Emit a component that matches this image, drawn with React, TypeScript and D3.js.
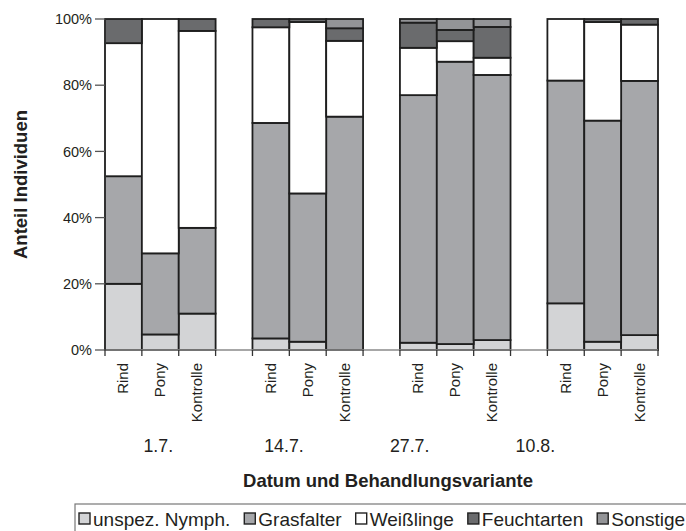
import React from "react";
import * as d3 from "d3";

// Sampling dates and grazing treatments
const dates = ["1.7.", "14.7.", "27.7.", "10.8."];
const treatments = ["Rind", "Pony", "Kontrolle"];

// Butterfly groups (stacked bottom to top)
const groups = ["unspez. Nymph.", "Grasfalter", "Weißlinge", "Feuchtarten", "Sonstige"];

// Share of individuals in % per bar (order: date × treatment)
const unspezNymph = [20, 4.7, 11, 3.5, 2.5, 0, 2.2, 1.8, 3.0, 14.1, 2.5, 4.5];
const grasfalter = [32.5, 24.5, 25.9, 65.1, 44.8, 70.5, 74.8, 85.3, 80.1, 67.3, 66.8, 76.8];
const weisslinge = [40.2, 70.8, 59.5, 28.9, 51.8, 22.9, 14.3, 6.2, 5.2, 18.6, 29.8, 17.0];
const feuchtarten = [7.3, 0, 3.6, 2.5, 0.9, 3.8, 7.6, 3.4, 9.3, 0, 0.9, 1.7];
const sonstige = [0, 0, 0, 0, 0, 2.8, 1.1, 3.3, 2.4, 0, 0, 0];

const yTicks = [0, 20, 40, 60, 80, 100];

const W = 686;
const H = 531;
const FONT = "'Liberation Sans', Arial, Helvetica, sans-serif";
const INK = "#231f20";
const colors = ["#d3d4d6", "#a6a7aa", "#ffffff", "#6a6b6d", "#939497"];

const margin = { left: 105, right: 28, top: 19, bottom: 181 };

function measure(text: string, font: string): number {
  const c = document.createElement("canvas");
  const ctx = c.getContext("2d");
  if (!ctx) return text.length * 10;
  ctx.font = font;
  return ctx.measureText(text).width;
}

export default function App() {
  const series = [unspezNymph, grasfalter, weisslinge, feuchtarten, sonstige];

  // one slot per bar, plus an empty slot between dates
  const slots: string[] = [];
  const rows: any[] = [];
  dates.forEach((d, di) => {
    treatments.forEach((t, ti) => {
      const i = di * treatments.length + ti;
      const key = `${d}|${t}`;
      slots.push(key);
      const row: any = { key, date: d, treatment: t };
      groups.forEach((g, gi) => (row[g] = series[gi][i]));
      rows.push(row);
    });
    if (di < dates.length - 1) slots.push(`gap${di}`);
  });

  const x = d3
    .scaleBand<string>()
    .domain(slots)
    .range([margin.left, W - margin.right])
    .paddingInner(0)
    .paddingOuter(0);

  const y = d3
    .scaleLinear()
    .domain([0, 100])
    .range([H - margin.bottom, margin.top]);

  const stacked = d3.stack<any>().keys(groups)(rows);

  const y0 = y(0);
  const bw = x.bandwidth();

  // boundaries between slots for the category ticks
  const boundaries = slots.map((s) => x(s) as number).concat([W - margin.right]);

  // date labels, evenly spaced below the treatments
  const dateStart = (x(`${dates[0]}|Pony`) as number) + bw / 2 - 2;
  const dateStep = 125.7;

  // legend layout
  const legendFont = `19px ${FONT}`;
  let lx = 79;
  const legendItems = groups.map((g, i) => {
    const item = { g, i, x: lx };
    lx += 11 + 3 + measure(g, legendFont) + 14;
    return item;
  });

  return (
    <svg
      width={W}
      height={H}
      style={{ position: "absolute", left: 0, top: 0, background: "#fff" }}
      fontFamily={FONT}
    >
      {/* bars */}
      {stacked.map((layer, li) => (
        <g key={layer.key} fill={colors[li]}>
          {layer.map((d: any) => {
            const v = d[1] - d[0];
            if (v <= 0) return null;
            return (
              <rect
                key={d.data.key}
                x={x(d.data.key)}
                y={y(d[1])}
                width={bw}
                height={y(d[0]) - y(d[1])}
                stroke="#1e1e1e"
                strokeWidth={1.8}
              />
            );
          })}
        </g>
      ))}

      {/* x axis */}
      <line
        x1={margin.left}
        x2={W - margin.right}
        y1={y0}
        y2={y0}
        stroke="#8a8a8a"
        strokeWidth={1.5}
      />
      {boundaries.map((bx, i) => (
        <line key={i} x1={bx} x2={bx} y1={y0} y2={y0 + 6} stroke="#333" strokeWidth={1.3} />
      ))}
      {rows.map((r) => {
        const cx = (x(r.key) as number) + bw / 2;
        return (
          <text
            key={r.key}
            transform={`translate(${cx + 5},${y0 + 13}) rotate(-90)`}
            textAnchor="end"
            fontSize={15}
            fill={INK}
          >
            {r.treatment}
          </text>
        );
      })}
      {dates.map((d, i) => (
        <text
          key={d}
          x={dateStart + i * dateStep}
          y={452}
          textAnchor="middle"
          fontSize={17.8}
          fill={INK}
        >
          {d}
        </text>
      ))}
      <text x={388} y={487} textAnchor="middle" fontSize={18.5} fontWeight="bold" fill={INK}>
        Datum und Behandlungsvariante
      </text>

      {/* y axis */}
      <line x1={margin.left} x2={margin.left} y1={y(0)} y2={y(100)} stroke="#333" strokeWidth={1.5} />
      {yTicks.map((t) => (
        <g key={t}>
          <line x1={margin.left - 10} x2={margin.left} y1={y(t)} y2={y(t)} stroke="#555" strokeWidth={1.3} />
          <text x={92} y={y(t) + 5.2} textAnchor="end" fontSize={14.5} fill={INK}>
            {`${t}%`}
          </text>
        </g>
      ))}
      <text
        transform={`translate(27,${(y(0) + y(100)) / 2}) rotate(-90)`}
        textAnchor="middle"
        fontSize={18.5}
        fontWeight="bold"
        fill={INK}
      >
        Anteil Individuen
      </text>

      {/* legend */}
      <rect x={75} y={504} width={W} height={H} fill="none" stroke="#777" strokeWidth={1.2} />
      {legendItems.map((it) => (
        <g key={it.g}>
          <rect
            x={it.x}
            y={513}
            width={11}
            height={11}
            fill={colors[it.i]}
            stroke="#222"
            strokeWidth={1.4}
          />
          <text x={it.x + 14} y={525.5} fontSize={19} fill={INK}>
            {it.g}
          </text>
        </g>
      ))}
    </svg>
  );
}
